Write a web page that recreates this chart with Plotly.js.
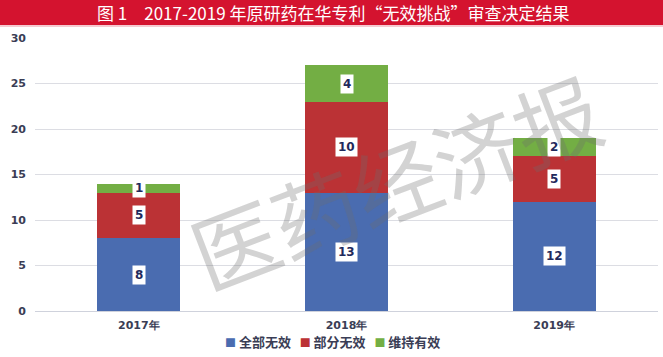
<!DOCTYPE html>
<html>
<head>
<meta charset="utf-8">
<script src="https://cdn.plot.ly/plotly-3.0.1.min.js"></script>
<style>html,body{margin:0;padding:0;background:#fff;}#chart{width:663px;height:357px;}</style>
</head>
<body>
<div id="chart"></div>
<script>
const categories = ['2017年', '2018年', '2019年'];
const seriesNames = ['全部无效', '部分无效', '维持有效'];
const allInvalid = [8, 13, 12];
const partInvalid = [5, 10, 5];
const stillValid = [1, 4, 2];
const yTicks = [0, 5, 10, 15, 20, 25, 30];
const titleText = '图 1　2017-2019 年原研药在华专利“无效挑战”审查决定结果';
const watermark = '医药经济报';

const colors = ['#4a6cb0', '#bb3235', '#73ae44'];
const seriesVals = [allInvalid, partInvalid, stillValid];

const traces = seriesVals.map((vals, i) => ({
  type: 'bar',
  name: seriesNames[i],
  x: categories,
  y: vals,
  marker: {color: colors[i], line: {width: 0}},
  hoverinfo: 'x+y+name'
}));

const annotations = [];
categories.forEach((c, j) => {
  let base = 0;
  seriesVals.forEach((vals) => {
    const v = vals[j];
    annotations.push({
      x: c, y: base + v / 2, xref: 'x', yref: 'y',
      text: '<b>' + v + '</b>', showarrow: false,
      font: {family: 'DejaVu Sans, sans-serif', size: 12, color: '#1f2a5c'},
      bgcolor: '#ffffff', borderpad: 2
    });
    base += v;
  });
});

// title
annotations.push({
  xref: 'paper', yref: 'paper', x: 0.478, y: 1.094, xanchor: 'center', yanchor: 'middle',
  text: titleText, showarrow: false,
  font: {family: 'Noto Sans CJK SC, sans-serif', size: 17, color: '#ffffff'}
});
// watermark
annotations.push({
  xref: 'paper', yref: 'paper', x: 0.578, y: 0.48, xanchor: 'center', yanchor: 'middle',
  text: watermark, showarrow: false, textangle: -21,
  font: {family: 'Noto Sans CJK SC, serif', size: 86, color: 'rgba(110,110,110,0.30)'}
});
// legend (compact, as in reference)
const legendText = seriesNames.map((n, i) =>
  '<span style="color:' + colors[i] + ';font-size:11px">■</span> <b>' + n + '</b>').join('&nbsp;&nbsp;&nbsp;');
annotations.push({
  xref: 'paper', yref: 'paper', x: 0.478, y: -0.11, xanchor: 'center', yanchor: 'middle',
  text: legendText, showarrow: false,
  font: {family: 'Noto Sans CJK SC, sans-serif', size: 13, color: '#3a3d55'}
});

const layout = {
  width: 663, height: 357,
  margin: {l: 35, r: 5, t: 38, b: 46},
  paper_bgcolor: '#ffffff', plot_bgcolor: '#ffffff',
  barmode: 'stack', bargap: 0.6,
  showlegend: false,
  xaxis: {type: 'category', tickfont: {family: 'DejaVu Sans, sans-serif', size: 11, color: '#3a3d55', weight: 'bold'},
    showline: true, linecolor: '#cfd2dc', linewidth: 1, ticks: '', showgrid: false, fixedrange: true,
    ticklabelstandoff: 4},
  yaxis: {range: [0, 30], tickvals: yTicks, ticktext: yTicks.map(String),
    tickfont: {family: 'DejaVu Sans, sans-serif', size: 11, color: '#3a3d55', weight: 'bold'},
    gridcolor: '#dcdde3', gridwidth: 1, zeroline: false, showline: false, ticks: '', ticklen: 0,
    ticklabelstandoff: 8, fixedrange: true},
  shapes: [
    {type: 'rect', xref: 'paper', yref: 'paper', x0: -0.06, x1: 1.01, y0: 1.048, y1: 1.14,
      fillcolor: '#d4132f', line: {width: 0}, layer: 'below'},
    {type: 'line', xref: 'paper', yref: 'paper', x0: -0.06, x1: 1.01, y0: 1.044, y1: 1.044,
      line: {color: '#f2b8c2', width: 1.5}, layer: 'below'}
  ],
  annotations: annotations
};

Plotly.newPlot('chart', traces, layout, {displayModeBar: false, staticPlot: true});
</script>
</body>
</html>
